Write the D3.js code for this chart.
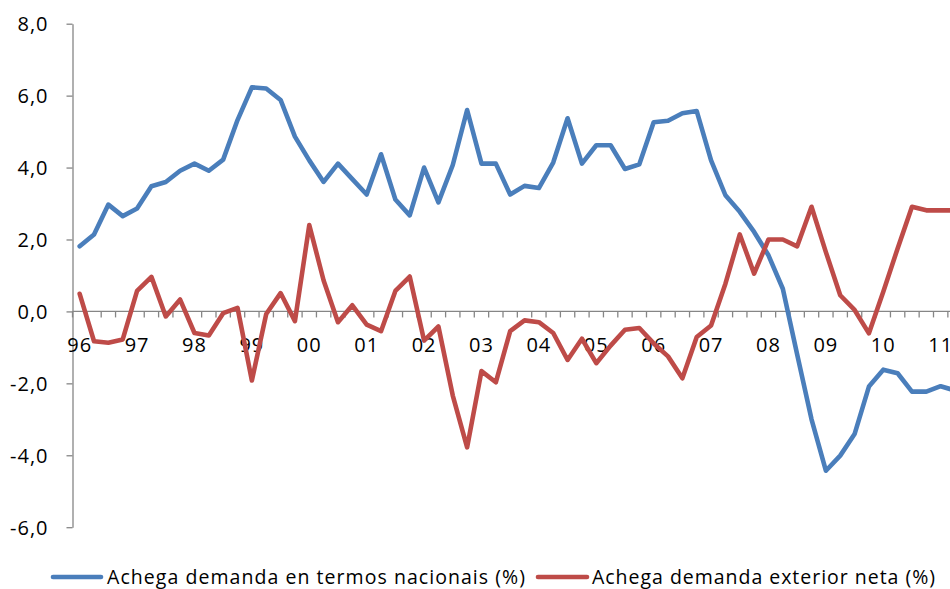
<!DOCTYPE html>
<html>
<head>
<meta charset="utf-8">
<script src="https://cdn.jsdelivr.net/npm/d3@7"></script>
<style>
  html, body { margin: 0; padding: 0; background: #fff; }
  svg { display: block; }
  text { font-family: "Open Sans", "Noto Sans", sans-serif; fill: #000; }
</style>
</head>
<body>
<svg id="chart" width="950" height="589"></svg>
<script>
// ---- Data (quarterly, 1996Q1 .. 2011Q2) ----
const years = ["96","97","98","99","00","01","02","03","04","05","06","07","08","09","10","11"];
const categories = [];
years.forEach(yy => { for (let q = 1; q <= 4; q++) categories.push(yy + "T" + q); });
const quarters = categories.slice(0, 62);

const seriesNames = [
  "Achega demanda en termos nacionais (%)",
  "Achega demanda exterior neta (%)"
];

const demandaNacional = [
  1.81, 2.14, 2.97, 2.65, 2.86, 3.48, 3.60, 3.91, 4.11, 3.91,
  4.22, 5.32, 6.23, 6.20, 5.88, 4.86, 4.20, 3.60, 4.11, 3.68,
  3.25, 4.37, 3.11, 2.67, 4.00, 3.03, 4.07, 5.60, 4.11, 4.11,
  3.25, 3.49, 3.43, 4.14, 5.37, 4.11, 4.62, 4.62, 3.96, 4.09,
  5.26, 5.30, 5.51, 5.57, 4.20, 3.23, 2.77, 2.21, 1.56, 0.63,
  -1.20, -3.00, -4.43, -4.01, -3.41, -2.09, -1.62, -1.72, -2.23, -2.23,
  -2.08, -2.20
];

const demandaExterior = [
  0.49, -0.83, -0.87, -0.78, 0.57, 0.96, -0.14, 0.33, -0.60, -0.67,
  -0.05, 0.10, -1.92, -0.07, 0.51, -0.27, 2.40, 0.86, -0.30, 0.17,
  -0.37, -0.55, 0.57, 0.97, -0.81, -0.42, -2.34, -3.78, -1.66, -1.97,
  -0.55, -0.25, -0.30, -0.60, -1.35, -0.76, -1.44, -0.95, -0.51, -0.46,
  -0.89, -1.25, -1.86, -0.71, -0.39, 0.77, 2.14, 1.05, 2.00, 2.00,
  1.81, 2.91, 1.65, 0.45, 0.04, -0.61, 0.55, 1.75, 2.91, 2.81,
  2.81, 2.81
];

const yTicks = [-6, -4, -2, 0, 2, 4, 6, 8];
const colors = ["#4a7ebb", "#be4b48"];

// ---- Layout ----
const svg = d3.select("#chart");
const plotLeft = 72.5, step = 14.35;
const plotTop = 23.7, plotBottom = 527.2;

const x = d3.scaleBand()
  .domain(quarters)
  .range([plotLeft, plotLeft + step * quarters.length])
  .paddingInner(0).paddingOuter(0);

const y = d3.scaleLinear().domain([-6, 8]).range([plotBottom, plotTop]);

const locale = d3.formatLocale({ decimal: ",", thousands: ".", grouping: [3], currency: ["", ""], minus: "-" });
const fmt = locale.format(".1f");

// Y axis
const yAxis = svg.append("g")
  .attr("transform", `translate(${plotLeft},0)`)
  .call(d3.axisLeft(y).tickValues(yTicks).tickSize(6).tickPadding(18).tickFormat(fmt).tickSizeOuter(0));
yAxis.select(".domain").attr("stroke", "#868686").attr("stroke-width", 1.3);
yAxis.selectAll(".tick line").attr("stroke", "#868686").attr("stroke-width", 1.3);
yAxis.selectAll(".tick text")
  .attr("font-size", 20)
  .attr("font-family", "'Open Sans', sans-serif")
  .attr("letter-spacing", "1px")
  .attr("dy", "0.36em");

// X axis (at zero)
const y0 = y(0);
const xg = svg.append("g");
xg.append("line")
  .attr("x1", plotLeft).attr("x2", x.range()[1])
  .attr("y1", y0).attr("y2", y0)
  .attr("stroke", "#868686").attr("stroke-width", 1.3);
const boundaries = quarters.map(q => x(q)).concat([x.range()[1]]);
xg.selectAll("line.tk").data(boundaries).enter().append("line")
  .attr("class", "tk")
  .attr("x1", d => d).attr("x2", d => d)
  .attr("y1", y0).attr("y2", y0 + 6)
  .attr("stroke", "#868686").attr("stroke-width", 1.3);
xg.selectAll("text.lbl").data(years).enter().append("text")
  .attr("class", "lbl")
  .attr("x", d => x(d + "T1") + x.bandwidth() / 2)
  .attr("y", y0 + 40.5)
  .attr("text-anchor", "middle")
  .attr("font-size", 20)
  .attr("letter-spacing", "1px")
  .text(d => d);

// Lines
const line = d3.line()
  .x((d, i) => x(quarters[i]) + x.bandwidth() / 2)
  .y(d => y(d));

[demandaNacional, demandaExterior].forEach((vals, k) => {
  svg.append("path")
    .datum(vals)
    .attr("fill", "none")
    .attr("stroke", colors[k])
    .attr("stroke-width", 4.6)
    .attr("stroke-linejoin", "round")
    .attr("stroke-linecap", "round")
    .attr("d", line);
});

// Legend
const legendItems = [
  { x1: 53, x2: 101, tx: 107, len: 418 },
  { x1: 538, x2: 587, tx: 592, len: 343 }
];
const ly = 577;
legendItems.forEach((it, k) => {
  svg.append("line")
    .attr("x1", it.x1).attr("x2", it.x2)
    .attr("y1", ly).attr("y2", ly)
    .attr("stroke", colors[k]).attr("stroke-width", 4.6)
    .attr("stroke-linecap", "round");
  svg.append("text")
    .attr("x", it.tx).attr("y", 583.5)
    .attr("font-size", 19.5)
    .attr("textLength", it.len)
    .attr("lengthAdjust", "spacing")
    .text(seriesNames[k]);
});
</script>
</body>
</html>
